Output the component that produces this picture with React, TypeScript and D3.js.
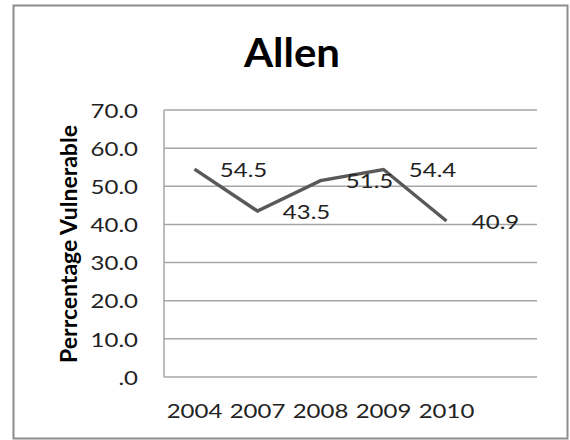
import * as React from 'react';
import { scaleBand, scaleLinear, line, format } from 'd3';

const years = ['2004', '2007', '2008', '2009', '2010'];
const vulnerable = [54.5, 43.5, 51.5, 54.4, 40.9];
const yTicks = [0, 10, 20, 30, 40, 50, 60, 70];

const width = 570;
const height = 440;
const plot = { left: 164, right: 537, top: 110, bottom: 377, catRight: 478 };
const font = 'Lato, "Open Sans", sans-serif';

const fmt = (v: number) => {
    const s = format('.1f')(v);
    return s.startsWith('0.') ? s.slice(1) : s;
};

const App = () => {
    const xScale = scaleBand().domain(years).range([plot.left - 1, plot.catRight]).padding(0);
    const yScale = scaleLinear().domain([0, 70]).range([plot.bottom, plot.top]);
    const cx = (d: string) => (xScale(d) || 0) + xScale.bandwidth() / 2;

    const pts = years.map((y, i) => [cx(y), yScale(vulnerable[i])] as [number, number]);
    const path = line()(pts) || '';

    return (
        <svg width={width} height={height} style={{ position: 'absolute', left: 0, top: 0, background: '#fff' }}>
            <rect x={13.5} y={5.5} width={554} height={433} fill="#fff" stroke="#8c8c8c" strokeWidth={2} />
            <text transform="translate(292,67) scale(1.05,1)" textAnchor="middle" fontFamily={font} fontWeight="bold" fontSize={40} fill="#000">Allen</text>

            {/* gridlines */}
            {yTicks.map((t) => (
                <line key={t} x1={plot.left} x2={plot.right} y1={yScale(t)} y2={yScale(t)} stroke="#a6a6a6" strokeWidth={1.5} />
            ))}
            <line x1={plot.left} x2={plot.left} y1={plot.top} y2={plot.bottom} stroke="#a6a6a6" strokeWidth={1.5} />

            {yTicks.map((t) => (
                <text key={t} transform={`translate(138,${yScale(t)}) scale(1.2,1)`} textAnchor="end" dominantBaseline="central"
                    fontFamily={font} fontSize={20} fill="#222">{fmt(t)}</text>
            ))}

            {years.map((y) => (
                <text key={y} transform={`translate(${cx(y)},418) scale(1.2,1)`} textAnchor="middle"
                    fontFamily={font} fontSize={20} fill="#222">{y}</text>
            ))}

            <text transform="translate(68,244) rotate(-90)" textAnchor="middle" dominantBaseline="central"
                fontFamily={font} fontWeight="bold" fontSize={23} fill="#000">Perrcentage Vulnerable</text>

            <path d={path} fill="none" stroke="#595959" strokeWidth={3.5} strokeLinejoin="miter" />

            {pts.map((p, i) => (
                <text key={i} transform={`translate(${p[0] + 49},${p[1]}) scale(1.2,1)`} textAnchor="middle" dominantBaseline="central"
                    fontFamily={font} fontSize={20} fill="#222">{fmt(vulnerable[i])}</text>
            ))}
        </svg>
    );
};

export default App;
